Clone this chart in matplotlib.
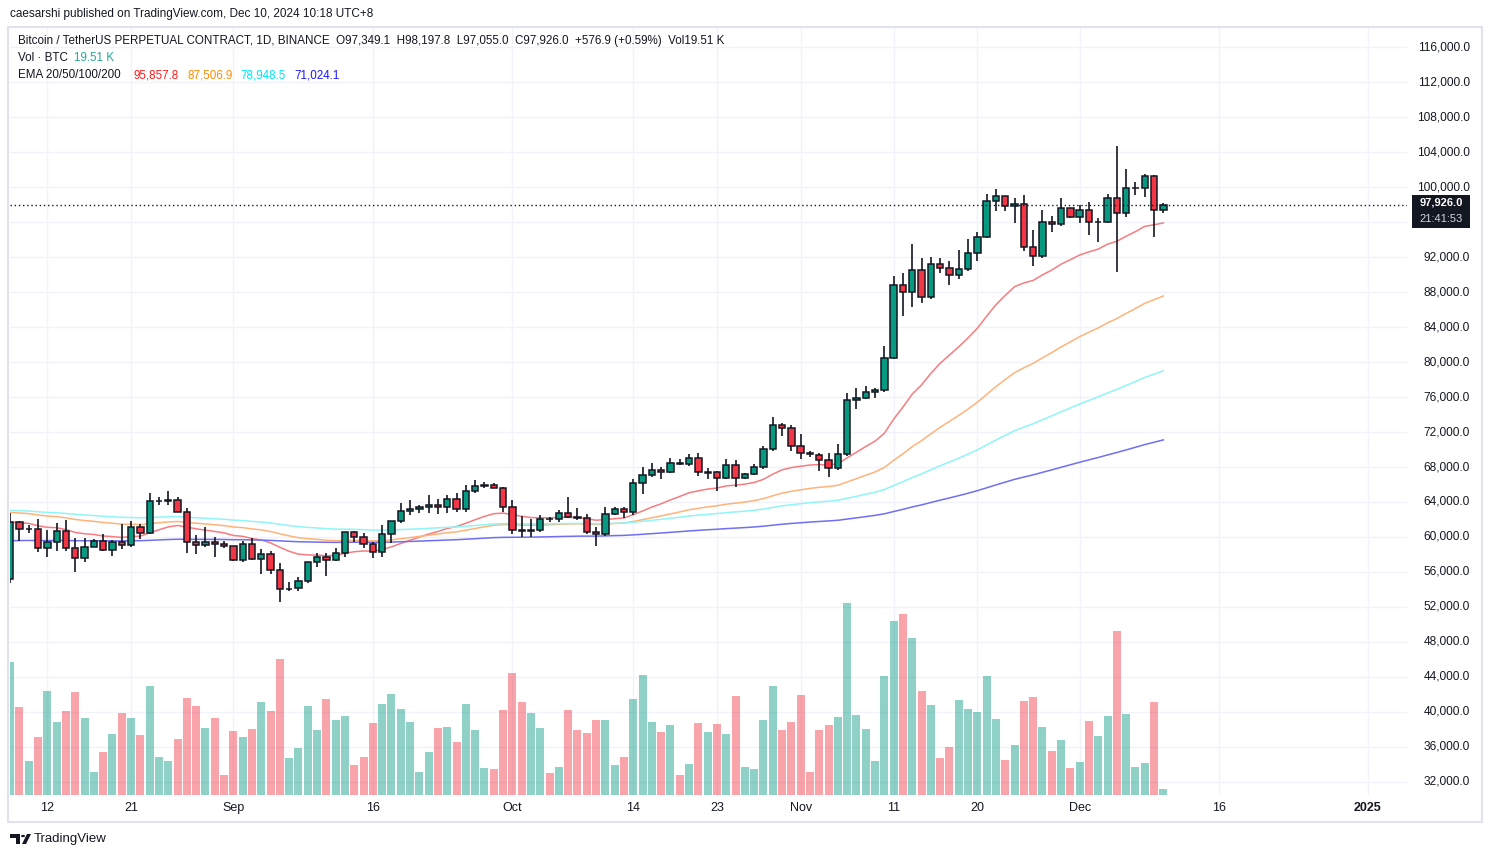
import numpy as np
import matplotlib.pyplot as plt
from matplotlib.patches import Rectangle, Circle, Polygon
from matplotlib.transforms import blended_transform_factory

plt.rcParams['font.family'] = ['Liberation Sans', 'DejaVu Sans']

# daily candles, 2024-08-08 .. 2024-12-10 (index 0 = Aug 8)
opens = [55160, 61680, 60880, 60940, 58700, 59390, 60650, 58700, 57560, 58900,
         59500, 58480, 59390, 59050, 61100, 60420, 64080, 64150, 64250, 62860,
         59390, 59050, 59390, 59200, 58930, 57330, 59160, 57450, 58020, 56190,
         54020, 54130, 54930, 57100, 57680, 57330, 58130, 60530, 59960, 59160,
         58250, 60300, 61790, 62930, 63160, 63390, 63660, 63390, 64300, 63160,
         65220, 65830, 65900, 65600, 63390, 60800, 60650, 60800, 62100, 62050,
         62780, 62250, 62150, 60610, 60340, 62590, 63160, 62900, 66130, 67050,
         67620, 67390, 68420, 68380, 69070, 67350, 67390, 66710, 68190, 66710,
         67160, 68040, 70020, 72760, 72420, 70360, 69560, 69410, 68800, 67850,
         69450, 75620, 75850, 76540, 76760, 80420, 88770, 87970, 90480, 87390,
         91170, 90710, 89910, 90590, 92420, 94330, 98370, 98940, 97800, 98020,
         93110, 92080, 95970, 95740, 97570, 96540, 97340, 95970, 96000, 98710,
         97000, 99850, 99920, 101220, 97349.1]
highs = [62750, 61830, 61370, 62020, 60800, 61560, 61940, 59850, 59850, 59770,
         60340, 59660, 61490, 61830, 61490, 65070, 64530, 65260, 64530, 63320,
         60230, 61180, 59960, 59540, 59000, 59540, 59850, 58630, 58400, 56990,
         54820, 55390, 57150, 58130, 58130, 58700, 60600, 60690, 60460, 59390,
         61370, 61800, 63920, 64230, 63660, 64800, 64300, 64800, 64990, 65940,
         66520, 66330, 66130, 65750, 64230, 62400, 62020, 62510, 62320, 63090,
         64530, 63280, 62630, 61180, 63390, 63390, 63470, 66590, 67960, 68420,
         67960, 68990, 68880, 69490, 69560, 67850, 67540, 68880, 68800, 67350,
         68340, 70400, 73750, 72990, 72800, 71770, 69870, 69640, 69560, 70590,
         76420, 76990, 77260, 76990, 81830, 89830, 90210, 93490, 91850, 91970,
         91850, 91590, 92800, 94020, 94900, 99200, 99740, 98980, 98710, 99090,
         95090, 97380, 96690, 98710, 97600, 97950, 98330, 96420, 99170, 104730,
         102020, 100620, 101490, 101340, 98197.8]
lows = [54700, 59580, 60420, 58320, 57750, 58440, 58440, 56040, 57180, 58800,
        58400, 57870, 58630, 58900, 59770, 60350, 63700, 63700, 62850, 58130,
        58020, 58820, 57680, 58780, 57250, 57180, 57400, 55730, 55730, 52610,
        53870, 53790, 54700, 56530, 55580, 57300, 57750, 59470, 58780, 57560,
        57750, 59280, 61640, 62510, 62780, 62700, 62630, 62780, 62900, 62900,
        64990, 65560, 65560, 62900, 60340, 60040, 59960, 60530, 61750, 61750,
        62200, 61940, 60340, 59010, 60150, 62500, 62130, 62510, 64880, 66900,
        66630, 67280, 68190, 68150, 67010, 66670, 65300, 66590, 65680, 66590,
        67050, 67730, 69870, 71540, 69870, 68950, 69180, 67580, 66900, 67660,
        69300, 74590, 75740, 75850, 76610, 80300, 85300, 86330, 86780, 87240,
        90210, 88800, 89530, 90400, 91590, 94200, 97300, 97300, 95930, 92730,
        91010, 91930, 94820, 95550, 96500, 95850, 94520, 93760, 95900, 90330,
        96540, 99090, 98820, 94250, 97055.0]
closes = [61680, 60880, 60940, 58700, 59390, 60650, 58700, 57560, 58900, 59500,
          58480, 59390, 59050, 61100, 60420, 64080, 64150, 64250, 62860, 59390,
          59050, 59390, 59200, 58930, 57330, 59160, 57450, 58020, 56190, 54020,
          54090, 54930, 57100, 57680, 57330, 58130, 60530, 59960, 59160, 58250,
          60300, 61790, 62930, 63160, 63390, 63660, 63390, 64300, 63160, 65220,
          65830, 65940, 65600, 63390, 60800, 60650, 60800, 62100, 62050, 62780,
          62250, 62150, 60610, 60340, 62590, 63160, 62900, 66130, 67050, 67620,
          67390, 68420, 68380, 69070, 67390, 67390, 66710, 68190, 66710, 67160,
          68040, 70020, 72760, 72420, 70360, 69560, 69490, 68800, 67850, 69450,
          75620, 75850, 76540, 76760, 80420, 88770, 87970, 90480, 87390, 91170,
          90710, 89910, 90590, 92420, 94330, 98370, 98980, 97800, 98020, 93110,
          92080, 95970, 95740, 97570, 96540, 97340, 95970, 96000, 98710, 97000,
          99850, 99920, 101220, 97349.1, 97926.0]
# volume, thousand BTC
volumes = [454, 300, 115, 197, 355, 249, 286, 351, 262, 78,
           146, 208, 279, 262, 204, 372, 129, 115, 190, 331,
           303, 228, 262, 67, 218, 197, 225, 317, 286, 464,
           126, 160, 303, 221, 327, 255, 269, 102, 129, 245,
           310, 344, 293, 249, 78, 146, 228, 232, 180, 310,
           221, 91, 88, 290, 416, 317, 279, 228, 74, 95,
           290, 221, 211, 255, 255, 102, 129, 327, 409, 249,
           214, 238, 67, 105, 245, 214, 242, 208, 338, 95,
           88, 255, 372, 221, 249, 341, 78, 221, 238, 266,
           656, 273, 225, 115, 406, 594, 618, 536, 355, 307,
           126, 163, 324, 293, 283, 406, 259, 119, 170, 320,
           334, 232, 149, 187, 91, 112, 252, 201, 269, 560,
           276, 95, 108, 317, 19.51]

ema_periods = [20, 50, 100, 200]
ema_start = [61700, 62820, 63050, 59580]
ema_colors = ['#f77c80', '#ffb37a', '#8ff5f7', '#6f6ff5']

tick_days = [4, 13, 24, 39, 54, 67, 76, 85, 95, 104, 115, 130, 146]
tick_labels = ['12', '21', 'Sep', '16', 'Oct', '14', '23', 'Nov', '11', '20', 'Dec', '16', '2025']
# 96,000 sits under the last-price tag and is not shown
price_ticks = [p for p in range(32000, 116001, 4000) if p != 96000]

GREEN = '#089981'
RED = '#F23645'
DARK = '#131722'
GRID = '#f0f3fa'

W, H = 1491, 857
fig = plt.figure(figsize=(W / 100, H / 100), dpi=100)


def fx(px):
    return px / W


def fy(py):
    return 1 - py / H


rect = [fx(10), fy(795), fx(1407) - fx(10), fy(28) - fy(795)]
axv = fig.add_axes(rect)
ax = fig.add_axes(rect)
ax.patch.set_visible(False)
for a in (ax, axv):
    a.set_xlim(-0.02, 150.2)
    for s in a.spines.values():
        s.set_visible(False)
    a.set_xticks([])
    a.set_yticks([])
ax.set_ylim(30510, 118178)

# grid (in the bottom axes, so volume bars sit on top of it)
for p in list(range(32000, 116001, 4000)):
    axv.plot([-1, 160], [p, p], color=GRID, lw=1, transform=ax.transData, zorder=0)
for d in tick_days:
    axv.axvline(d, color=GRID, lw=1, zorder=0)

# volume
n = len(closes)
x = np.arange(n)
up = [closes[i] >= opens[i] for i in range(n)]
vcol = [(8 / 255, 153 / 255, 129 / 255, 0.45) if u else (242 / 255, 54 / 255, 69 / 255, 0.45) for u in up]
axv.bar(x, volumes, width=0.86, color=vcol, zorder=2)
axv.set_ylim(0, max(volumes) * 767 / 192)

# EMAs
for per, start, col in zip(ema_periods, ema_start, ema_colors):
    k = 2 / (per + 1)
    vals = [start]
    for c in closes[1:]:
        vals.append(vals[-1] + k * (c - vals[-1]))
    ax.plot(x, vals, color=col, lw=1.1, zorder=2)

# candles
for i in range(n):
    col = GREEN if up[i] else RED
    ax.vlines(i, lows[i], highs[i], color=DARK, lw=1.2, zorder=3)
    lo = min(opens[i], closes[i])
    h = max(abs(closes[i] - opens[i]), 30)
    ax.add_patch(Rectangle((i - 0.34, lo), 0.68, h, facecolor=col,
                           edgecolor=DARK, lw=1.1, zorder=4))

# last price line
last = closes[-1]
ax.axhline(last, color=DARK, lw=1, ls=(0, (1, 2)), zorder=5)

# price scale
tr_y = blended_transform_factory(fig.transFigure, ax.transData)
for p in price_ticks:
    ax.text(fx(1470), p, f'{p:,.1f}', transform=tr_y, ha='right', va='center',
            fontsize=8.6, color=DARK, clip_on=False)
fig.patches.append(Rectangle((fx(1412), fy(228)), fx(1470) - fx(1412), fy(195) - fy(228),
                             transform=fig.transFigure, facecolor=DARK, edgecolor='none', zorder=10))
fig.text(fx(1441), fy(203), f'{last:,.1f}', ha='center', va='center', fontsize=8,
         fontweight='bold', color='white', zorder=11)
fig.text(fx(1441), fy(219.5), '21:41:53', ha='center', va='center', fontsize=8,
         color='#d1d4dc', zorder=11)

# time scale
tr_x = blended_transform_factory(ax.transData, fig.transFigure)
for d, lab in zip(tick_days, tick_labels):
    ax.text(d, fy(808), lab, transform=tr_x, ha='center', va='center', fontsize=9,
            color=DARK, fontweight='bold' if lab == '2025' else 'normal', clip_on=False)

# frame
fig.patches.append(Rectangle((fx(8), fy(822)), fx(1482) - fx(8), fy(27) - fy(822),
                             transform=fig.transFigure, facecolor='none',
                             edgecolor='#e0e3eb', lw=1.5, zorder=1))

# texts
fig.text(fx(10), fy(14), 'caesarshi published on TradingView.com, Dec 10, 2024 10:18 UTC+8',
         fontsize=8.5, color=DARK, va='center')
fig.text(fx(18), fy(41), 'Bitcoin / TetherUS PERPETUAL CONTRACT, 1D, BINANCE  O97,349.1  H98,197.8  '
         'L97,055.0  C97,926.0  +576.9 (+0.59%)  Vol19.51 K',
         fontsize=8.35, color=DARK, va='center')
fig.text(fx(18), fy(58), 'Vol \u00b7 BTC', fontsize=8.35, color=DARK, va='center')
fig.text(fx(74), fy(58), '19.51 K', fontsize=8.35, color='#22ab94', va='center')
fig.text(fx(18), fy(75), 'EMA 20/50/100/200', fontsize=8.35, color=DARK, va='center')
ema_text = ['95,857.8', '87,506.9', '78,948.5', '71,024.1']
ema_text_x = [133, 187, 240, 294]
ema_text_col = ['#ff1a1a', '#ff8c00', '#00e5ff', '#1a1aff']
for s, xx, c in zip(ema_text, ema_text_x, ema_text_col):
    fig.text(fx(xx), fy(75), s, fontsize=8.35, color=c, va='center')

# TradingView logo + name
fig.patches.append(Polygon([[fx(10), fy(834)], [fx(20), fy(834)], [fx(20), fy(844)],
                            [fx(16), fy(844)], [fx(16), fy(838)], [fx(10), fy(838)]],
                           closed=True, transform=fig.transFigure, facecolor=DARK, edgecolor='none'))
fig.patches.append(Circle((fx(23), fy(836)), 2 / W, transform=fig.transFigure,
                          facecolor=DARK, edgecolor='none'))
fig.patches.append(Polygon([[fx(27), fy(834)], [fx(31), fy(834)], [fx(26), fy(844)], [fx(22), fy(844)]],
                           closed=True, transform=fig.transFigure, facecolor=DARK, edgecolor='none'))
fig.text(fx(34), fy(839), 'TradingView', fontsize=9.5, color=DARK, va='center')

fig.savefig('out.png', dpi=100, facecolor='white')
